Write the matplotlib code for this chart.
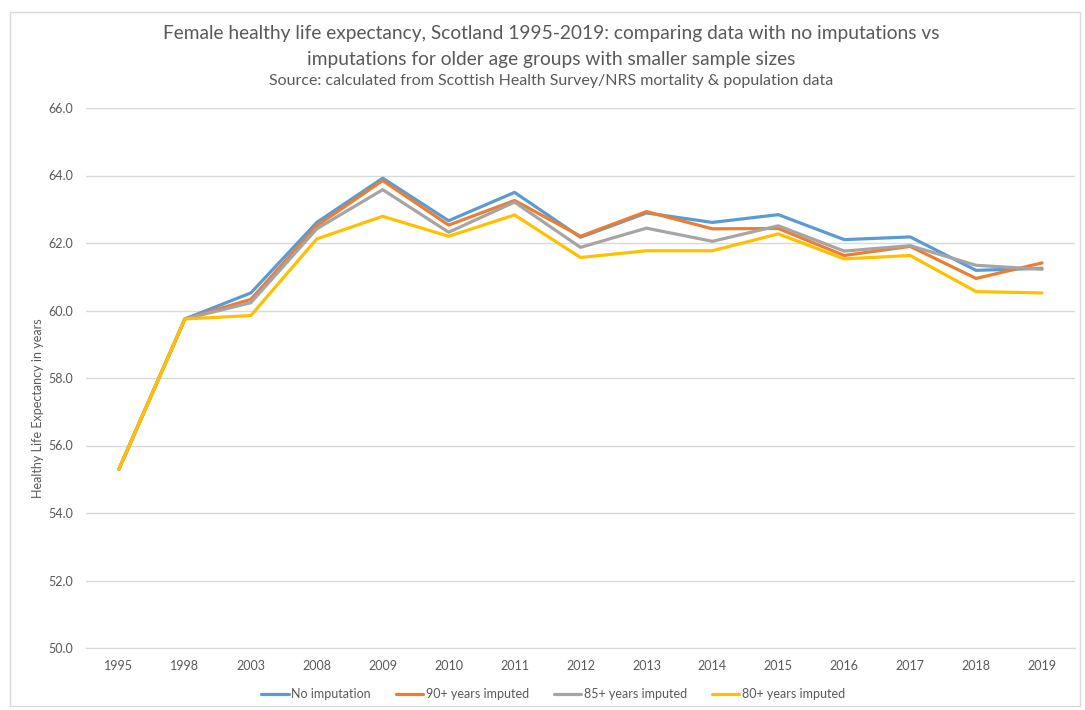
import matplotlib
matplotlib.use("Agg")
import matplotlib.pyplot as plt
from matplotlib.patches import Rectangle

plt.rcParams['font.family'] = ['Lato', 'DejaVu Sans']

years = ["1995", "1998", "2003", "2008", "2009", "2010", "2011", "2012",
         "2013", "2014", "2015", "2016", "2017", "2018", "2019"]
no_imputation = [55.3, 59.75, 60.52, 62.61, 63.92, 62.66, 63.50, 62.17,
                 62.89, 62.61, 62.84, 62.10, 62.18, 61.19, 61.25]
imputed_90 = [55.3, 59.75, 60.33, 62.51, 63.85, 62.53, 63.26, 62.20,
              62.93, 62.42, 62.43, 61.63, 61.90, 60.95, 61.41]
imputed_85 = [55.3, 59.75, 60.23, 62.42, 63.58, 62.32, 63.21, 61.87,
              62.44, 62.05, 62.51, 61.76, 61.92, 61.34, 61.22]
imputed_80 = [55.3, 59.75, 59.85, 62.12, 62.79, 62.20, 62.83, 61.57,
              61.77, 61.77, 62.27, 61.53, 61.63, 60.56, 60.52]

series = [
    ("No imputation", no_imputation, "#5B9BD5"),
    ("90+ years imputed", imputed_90, "#ED7D31"),
    ("85+ years imputed", imputed_85, "#A5A5A5"),
    ("80+ years imputed", imputed_80, "#FFC000"),
]

W, H = 1085, 710
fig = plt.figure(figsize=(W / 100, H / 100), dpi=100)
fig.patch.set_facecolor("white")

# chart border
fig.patches.append(Rectangle((10 / W, 4 / H), 1070 / W, 694 / H,
                             transform=fig.transFigure, fill=False,
                             edgecolor="#D9D9D9", linewidth=1))

ax = fig.add_axes([86 / W, 1 - 648 / H, 989 / W, 540 / H])
x = list(range(len(years)))
for label, vals, color in series:
    ax.plot(x, vals, color=color, linewidth=2.3, label=label,
            solid_joinstyle="round", solid_capstyle="round", zorder=3)

ax.set_xlim(-0.5, len(years) - 0.5)
ax.set_ylim(50, 66)
ax.set_yticks([50 + 2 * i for i in range(9)])
ax.set_yticklabels([f"{50 + 2 * i:.1f}" for i in range(9)])
ax.set_xticks(x)
ax.set_xticklabels(years)
ax.grid(axis="y", color="#D9D9D9", linewidth=1)
ax.set_axisbelow(True)
for s in ["top", "right", "left"]:
    ax.spines[s].set_visible(False)
ax.spines["bottom"].set_color("#D9D9D9")
ax.tick_params(axis="both", length=0, labelsize=9, labelcolor="#595959")
ax.tick_params(axis="y", pad=9)
ax.tick_params(axis="x", pad=9)

fig.text(38 / W, 1 - 408 / H, "Healthy Life Expectancy in years",
         rotation=90, ha="center", va="center", fontsize=9, color="#595959")

fig.text(551 / W, 1 - 33 / H,
         "Female healthy life expectancy, Scotland 1995-2019: comparing data with no imputations vs",
         ha="center", va="center", fontsize=13.8, color="#595959")
fig.text(551 / W, 1 - 59 / H,
         "imputations for older age groups with smaller sample sizes",
         ha="center", va="center", fontsize=13.8, color="#595959")
fig.text(551 / W, 1 - 81 / H,
         "Source: calculated from Scottish Health Survey/NRS mortality & population data",
         ha="center", va="center", fontsize=11.5, color="#595959")

fig.legend(loc="center", bbox_to_anchor=(553 / W, 1 - 694 / H), ncol=4,
           frameon=False, fontsize=9, labelcolor="#595959",
           handlelength=2.2, handletextpad=0.2, columnspacing=2.0)

fig.savefig("out.png", dpi=100, facecolor="white")
